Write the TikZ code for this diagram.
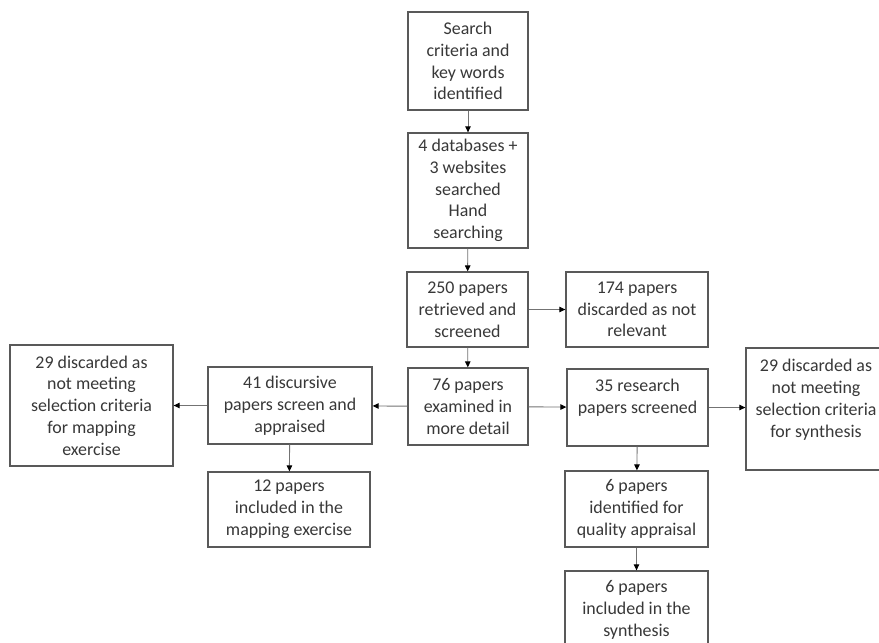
\documentclass[tikz,border=0pt]{standalone}
\usepackage{fontspec}
\setmainfont{Carlito}
\usetikzlibrary{arrows.meta}
\begin{document}
\begin{tikzpicture}[x=1pt,y=-1pt,
  box/.style={draw=black!65,line width=1.3pt,rectangle,align=center,
    text=black!78,font=\fontsize{17.9}{21.8}\selectfont,inner sep=0pt},
  conn/.style={draw=black!55,line width=0.9pt,-{Triangle[length=6pt,width=5.5pt,fill=black,color=black]}}]
\useasboundingbox (0,0) rectangle (879,643);
\clip (0,0) rectangle (879,643);
\fill[white] (0,0) rectangle (879,643);
\node[box,minimum width=120pt,minimum height=98pt] (A) at (468,61) {Search\\criteria and\\key words\\identified};
\node[box,minimum width=120pt,minimum height=115pt] (B) at (468,190.5) {4 databases +\\3 websites\\searched\\Hand\\searching};
\node[box,minimum width=121pt,minimum height=75pt] (C) at (467.5,309.5) {250 papers\\retrieved and\\screened};
\node[box,minimum width=142pt,minimum height=75pt] (D) at (637,309.5) {174 papers\\discarded as not\\relevant};
\node[box,minimum width=120pt,minimum height=77pt] (E) at (468,406.5) {76 papers\\examined in\\more detail};
\node[box,minimum width=141pt,minimum height=77pt] (F) at (637.5,407.5) {35 research\\papers screened\\\mbox{}};
\node[box,minimum width=140pt,minimum height=122pt] (G) at (816,409) {29 discarded as\\not meeting\\selection criteria\\for synthesis\\\mbox{}};
\node[box,minimum width=164pt,minimum height=77pt] (H) at (290,405.5) {41 discursive\\papers screen and\\appraised};
\node[box,minimum width=163pt,minimum height=121pt] (I) at (91.5,405.5) {29 discarded as\\not meeting\\selection criteria\\for mapping\\exercise};
\node[box,minimum width=162pt,minimum height=75pt] (J) at (289,509.5) {12 papers\\included in the\\mapping exercise};
\node[box,minimum width=143pt,minimum height=76pt] (K) at (636.5,509) {6 papers\\identified for\\quality appraisal};
\node[box,minimum width=143pt,minimum height=78pt] (L) at (636.5,610) {6 papers\\included in the\\synthesis};
\draw[conn] (A) -- (B);
\draw[conn] (B) -- (C);
\draw[conn] (C) -- (D);
\draw[conn] (C) -- (E);
\draw[conn] (E) -- (H);
\draw[conn] (E) -- (F);
\draw[conn] (H) -- (I);
\draw[conn] (F.east) -- (G.west|-F.east);
\draw[conn] (H) -- (J);
\draw[conn] (F) -- (K);
\draw[conn] (K) -- (L);
\end{tikzpicture}
\end{document}
